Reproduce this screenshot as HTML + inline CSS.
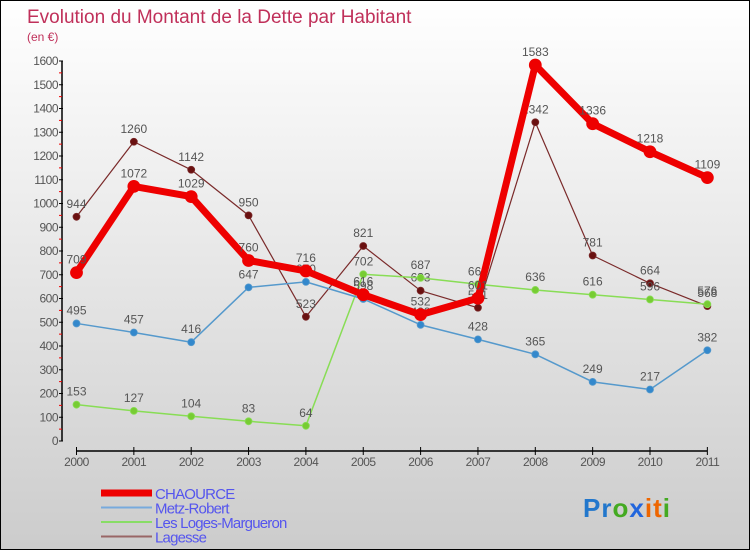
<!DOCTYPE html>
<html><head><meta charset="utf-8"><style>
body{margin:0;}
#wrap{position:relative;width:748px;height:548px;border:1px solid #000;background:linear-gradient(#ffffff,#f0f0f0 30%,#cccccc);font-family:"Liberation Sans",sans-serif;overflow:hidden}
svg{position:absolute;left:0;top:0}
</style></head><body>
<div id="wrap">
<svg id="s" width="748" height="548">
<text x="26" y="22" font-size="19" fill="#c0305a">Evolution du Montant de la Dette par Habitant</text>
<text x="26" y="40" font-size="12" fill="#c0305a">(en €)</text>
</svg>
</div>
<script>
const years=["2000","2001","2002","2003","2004","2005","2006","2007","2008","2009","2010","2011"];
const yTicks=[0,100,200,300,400,500,600,700,800,900,1000,1100,1200,1300,1400,1500,1600];
const chaource=[709,1072,1029,760,716,616,532,601,1583,1336,1218,1109];
const metz=[495,457,416,647,670,598,489,428,365,249,217,382];
const loges=[153,127,104,83,64,702,687,660,636,616,596,576];
const lagesse=[944,1260,1142,950,523,821,633,561,1342,781,664,568];
const NS="http://www.w3.org/2000/svg";
const s=document.getElementById('s');
function xS(i){return 75.5+i*57.35;}
function yS(v){return 440-v*0.2375;}
function mk(t,a,p){const e=document.createElementNS(NS,t);for(const k in a)e.setAttribute(k,a[k]);(p||s).appendChild(e);return e;}
// y axis
let ya=mk('line',{x1:61,y1:yS(1600),x2:61,y2:440,stroke:'#000','stroke-width':1.5});


yTicks.forEach((v,i)=>{
 mk('line',{x1:58,y1:yS(v),x2:62,y2:yS(v),stroke:'#000'});
 if(i<yTicks.length-1)mk('line',{x1:58,y1:yS(v+50),x2:61,y2:yS(v+50),stroke:'#e00'});
 const t=mk('text',{x:57,y:yS(v)+4,'font-size':12,fill:'#555','text-anchor':'end','letter-spacing':'-0.5'});
 t.textContent=v;
 
 
});
// x axis
let xa=mk('line',{x1:xS(0),y1:450,x2:xS(11),y2:450,stroke:'#000','stroke-width':1.5});


years.forEach((y,i)=>{
 mk('line',{x1:xS(i),y1:446,x2:xS(i),y2:454,stroke:'#000'});
 const t=mk('text',{x:xS(i),y:465,'font-size':12,fill:'#555','text-anchor':'middle','letter-spacing':'-0.5'});
 t.textContent=y;
 
 
});
function series(data,color,w,r,fill,name){
 const g=mk('g',{});
 
 
 mk('polyline',{points:data.map((v,i)=>xS(i)+','+yS(v)).join(' '),fill:'none',stroke:color,'stroke-width':w,'stroke-linejoin':'round'},g);
 data.forEach((v,i)=>{
  const c=mk('circle',{cx:xS(i),cy:yS(v),r:r,fill:fill,stroke:color,'stroke-width':0.8},g);
  
  
  const t=mk('text',{x:xS(i),y:yS(v)-9,'font-size':12,fill:'#555','text-anchor':'middle'},g);
  t.textContent=v;
 });
}
series(lagesse,'#7a2a2a',1.2,3.5,'#6a1010','series-lagesse');
series(loges,'#88dd55',1.5,3.5,'#77cc33','series-les-loges-margueron');
series(metz,'#5599cc',1.5,3.5,'#3388cc','series-metz-robert');
series(chaource,'#ee0000',7,6,'#ee0000','series-chaource');
// legend
const leg=[['CHAOURCE','#ee0000',7],['Metz-Robert','#77aadd',2],['Les Loges-Margueron','#88dd66',2],['Lagesse','#996666',2]];
leg.forEach((l,i)=>{
 const yy=492+i*14.5;
 const g=mk('g',{});
 
 
 mk('line',{x1:100,y1:yy,x2:151,y2:yy,stroke:l[1],'stroke-width':l[2]},g);
 const t=mk('text',{x:154,y:yy+6,'font-size':15,fill:'#5555ee','letter-spacing':'-0.8'},g);
 t.textContent=l[0];
});
// logo
const lg=mk('text',{x:582,y:516,'font-size':26,'font-weight':'bold','letter-spacing':'1'});


[['P','#2277cc'],['r','#2277cc'],['o','#44aa22'],['x','#2266dd'],['i','#ee6600'],['t','#ee6600'],['i','#44aa22']].forEach(c=>{const ts=mk('tspan',{fill:c[1]},lg);ts.textContent=c[0];});
</script>
</body></html>
